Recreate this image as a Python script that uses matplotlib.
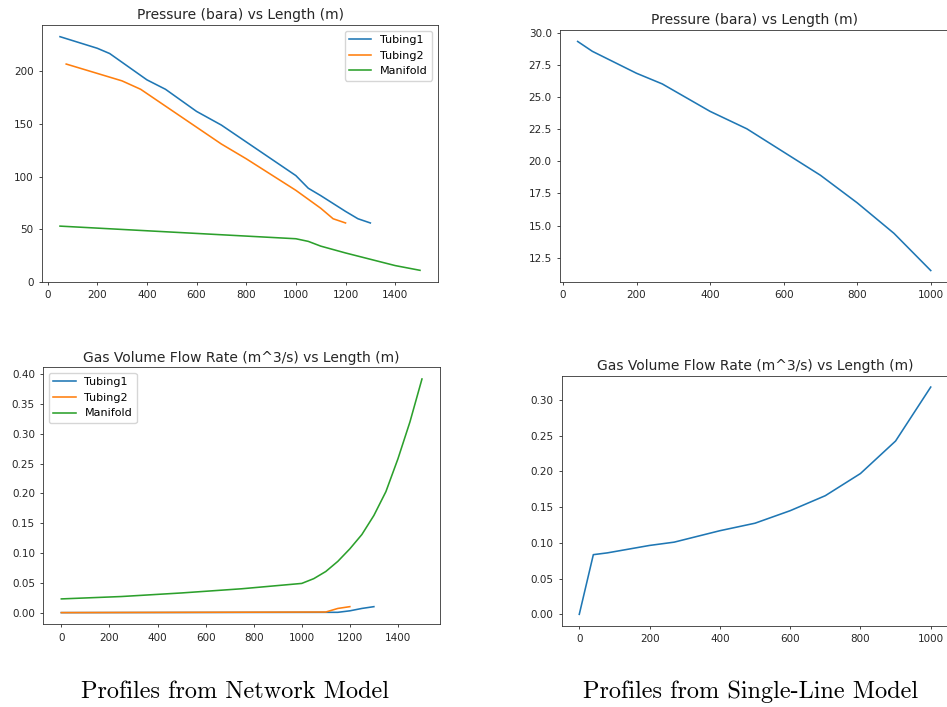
import os
import numpy as np
import matplotlib
matplotlib.use('Agg')
import matplotlib.pyplot as plt
from matplotlib.font_manager import FontProperties

# network model - pressure
p_t1_x = [50, 200, 250, 400, 475, 600, 700, 800, 900, 1000, 1050, 1100, 1200, 1250, 1300]
p_t1_y = [233, 222, 217, 192, 183, 162, 149, 133, 117, 101, 89, 82, 67, 60, 56]
p_t2_x = [75, 300, 375, 500, 700, 800, 1000, 1100, 1150, 1200]
p_t2_y = [207, 191, 183, 163, 131, 117, 87, 70, 60, 56]
p_man_x = [50, 1000, 1050, 1100, 1200, 1300, 1400, 1500]
p_man_y = [53, 41, 38.5, 34, 27.5, 21.5, 15.5, 11]

# network model - gas flow
q_t1_x = [0, 1150, 1200, 1250, 1300]
q_t1_y = [0, 0.0005, 0.003, 0.007, 0.010]
q_t2_x = [0, 1100, 1150, 1200]
q_t2_y = [0, 0.001, 0.007, 0.010]
q_man_x = [0, 250, 500, 750, 1000, 1050, 1100, 1150, 1200, 1250, 1300, 1350, 1400, 1450, 1500]
q_man_y = [0.023, 0.027, 0.033, 0.040, 0.049, 0.057, 0.069, 0.086, 0.107, 0.131, 0.163,
           0.203, 0.258, 0.320, 0.392]

# single-line model
s_p_x = [40, 80, 200, 270, 400, 500, 600, 700, 800, 900, 1000]
s_p_y = [29.35, 28.58, 26.87, 26.04, 23.9, 22.54, 20.73, 18.92, 16.77, 14.39, 11.49]
s_q_x = [0, 40, 80, 200, 270, 400, 500, 600, 700, 800, 900, 1000]
s_q_y = [0, 0.0835, 0.086, 0.0964, 0.101, 0.117, 0.1275, 0.145, 0.166, 0.197, 0.2425, 0.318]

labels = ['Tubing1', 'Tubing2', 'Manifold']
captions = ['Profiles from Network Model', 'Profiles from Single-Line Model']

W, H = 947, 707
fig = plt.figure(figsize=(W / 100, H / 100), dpi=100)

def box(l, r, t, b):
    return [l / W, (H - b) / H, (r - l) / W, (b - t) / H]

lw = 1.15
fs = 7.5
lfs = 8.0
tfs = 10.0

def style(ax, title):
    ax.set_title(title, fontsize=tfs, color='#262626', pad=4)
    ax.tick_params(labelsize=fs, colors='#262626', length=2.5, width=0.6)
    for s in ax.spines.values():
        s.set_linewidth(0.6)
        s.set_color('#333333')

ax1 = fig.add_axes(box(42, 438, 25, 282))
ax1.plot(p_t1_x, p_t1_y, lw=lw, label=labels[0])
ax1.plot(p_t2_x, p_t2_y, lw=lw, label=labels[1])
ax1.plot(p_man_x, p_man_y, lw=lw, label=labels[2])
ax1.legend(loc='upper right', fontsize=lfs, handlelength=2.0)
style(ax1, 'Pressure (bara) vs Length (m)')

ax2 = fig.add_axes(box(560, 948.4, 30, 282))
ax2.plot(s_p_x, s_p_y, lw=lw)
style(ax2, 'Pressure (bara) vs Length (m)')

ax3 = fig.add_axes(box(43.3, 440, 367.3, 624.3))
ax3.plot(q_t1_x, q_t1_y, lw=lw, label=labels[0])
ax3.plot(q_t2_x, q_t2_y, lw=lw, label=labels[1])
ax3.plot(q_man_x, q_man_y, lw=lw, label=labels[2])
ax3.legend(loc='upper left', fontsize=lfs, handlelength=2.0)
style(ax3, 'Gas Volume Flow Rate (m^3/s) vs Length (m)')

ax4 = fig.add_axes(box(561.7, 948.3, 375.7, 625.7))
ax4.plot(s_q_x, s_q_y, lw=lw)
style(ax4, 'Gas Volume Flow Rate (m^3/s) vs Length (m)')

cm = FontProperties(fname=os.path.join(matplotlib.get_data_path(), 'fonts', 'ttf', 'cmr10.ttf'), size=17.5)
fig.text(235 / W, 1 - 692 / H, captions[0], fontproperties=cm, ha='center', va='center')
fig.text(751 / W, 1 - 692 / H, captions[1], fontproperties=cm, ha='center', va='center')

fig.savefig('out.png', dpi=100)
